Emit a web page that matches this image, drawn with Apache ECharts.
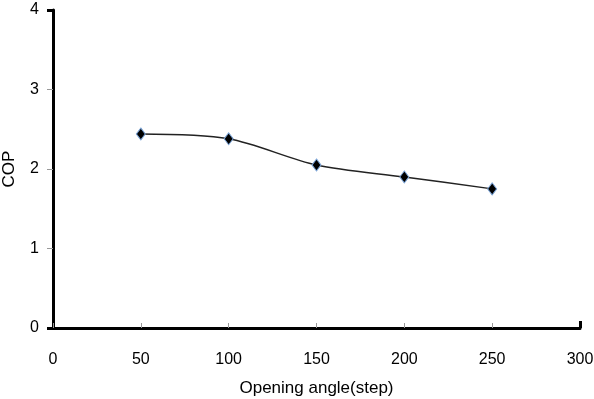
<!DOCTYPE html>
<html>
<head>
<meta charset="utf-8">
<script src="https://cdn.jsdelivr.net/npm/echarts@6/dist/echarts.min.js"></script>
<style>
  html, body { margin: 0; padding: 0; background: #fff; }
  #chart { width: 594px; height: 399px; }
</style>
</head>
<body>
<div id="chart"></div>
<script>
// opening angle vs COP
const openingAngle = [50, 100, 150, 200, 250];
const copValues = [2.44, 2.38, 2.05, 1.90, 1.75];

const chart = echarts.init(document.getElementById('chart'));

const font = 'Liberation Sans, Arial, sans-serif';

const option = {
  animation: false,
  grid: { left: 53, right: 14, top: 10, bottom: 71, outerBoundsMode: 'none', containLabel: false },
  xAxis: [
    {
      type: 'value',
      min: 0,
      max: 300,
      interval: 50,
      name: 'Opening angle(step)',
      nameLocation: 'middle',
      nameGap: 52,
      nameTextStyle: { color: '#000', fontSize: 17, fontFamily: font },
      axisLine: { lineStyle: { color: '#000', width: 3 } },
      axisTick: { inside: true, length: 5, lineStyle: { color: '#999', width: 1 } },
      axisLabel: { color: '#000', fontSize: 16, fontFamily: font, margin: 24 },
      splitLine: { show: false }
    },
    {
      // black end marks of the frame
      type: 'value',
      position: 'bottom',
      min: 0,
      max: 300,
      axisLine: { show: false },
      axisTick: { show: true, inside: true, length: 7, customValues: [300], lineStyle: { color: '#000', width: 3 } },
      axisLabel: { show: false },
      splitLine: { show: false }
    }
  ],
  yAxis: [
    {
      type: 'value',
      min: 0,
      max: 4,
      interval: 1,
      name: 'COP',
      nameLocation: 'middle',
      nameGap: 35,
      nameMoveOverlap: false,
      nameTextStyle: { color: '#000', fontSize: 17, fontFamily: font },
      axisLine: { show: true, lineStyle: { color: '#000', width: 3 } },
      axisTick: { show: true, length: 6, lineStyle: { color: '#999', width: 1 } },
      axisLabel: { color: '#000', fontSize: 16, fontFamily: font, margin: 14 },
      splitLine: { show: false }
    },
    {
      type: 'value',
      position: 'left',
      min: 0,
      max: 4,
      axisLine: { show: false },
      axisTick: { show: true, length: 6, customValues: [0, 4], lineStyle: { color: '#000', width: 3 } },
      axisLabel: { show: false },
      splitLine: { show: false }
    }
  ],
  series: [
    {
      type: 'line',
      data: openingAngle.map((a, i) => [a, copValues[i]]),
      smooth: 0.3,
      symbol: 'diamond',
      symbolSize: [9, 12],
      lineStyle: { color: '#222', width: 1.5 },
      itemStyle: { color: '#000', borderColor: '#7aa3d6', borderWidth: 1 }
    }
  ]
};

chart.setOption(option);
</script>
</body>
</html>
